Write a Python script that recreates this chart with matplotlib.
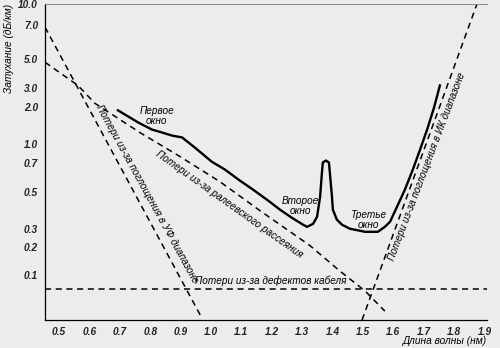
import numpy as np
import matplotlib.pyplot as plt

# суммарное затухание волокна
wl_total = [0.694, 0.727, 0.760, 0.806, 0.839, 0.872, 0.905, 0.947, 1.003, 1.046,
            1.095, 1.138, 1.188, 1.227, 1.266, 1.303, 1.316, 1.336, 1.349, 1.359,
            1.365, 1.368, 1.378, 1.388, 1.391, 1.398, 1.401, 1.414, 1.431, 1.457,
            1.507, 1.549, 1.572, 1.589, 1.612, 1.638, 1.664, 1.688, 1.711, 1.734,
            1.753]
att_total = [1.89, 1.69, 1.51, 1.32, 1.25, 1.18, 1.14, 0.94, 0.71, 0.645,
             0.568, 0.512, 0.442, 0.39, 0.349, 0.317, 0.308, 0.321, 0.354, 0.467,
             0.623, 0.70, 0.728, 0.70, 0.623, 0.467, 0.39, 0.34, 0.317, 0.30,
             0.28, 0.28, 0.308, 0.33, 0.406, 0.512, 0.645, 0.906, 1.32, 2.0,
             3.15]

# рэлеевское рассеяние
wl_rayleigh = [0.454, 0.5625, 0.618, 0.766, 0.898, 1.030, 1.161, 1.326, 1.424, 1.507, 1.572]
att_rayleigh = [4.74, 3.15, 2.18, 1.25, 0.788, 0.56, 0.385, 0.205, 0.11, 0.0735, 0.050]

# поглощение в УФ и ИК диапазонах
wl_uv = [0.454, 0.970]
att_uv = [6.86, 0.0438]
wl_ir = [1.497, 1.875]
att_ir = [0.0422, 10.0]

# дефекты кабеля
att_cable = 0.0764

x_ticks = [0.5, 0.6, 0.7, 0.8, 0.9, 1.0, 1.1, 1.2, 1.3, 1.4, 1.5, 1.6, 1.7, 1.8, 1.9]
y_ticks = [0.1, 0.2, 0.3, 0.5, 0.7, 1.0, 2.0, 3.0, 5.0, 7.0, 10.0]
y_labels = ['0.1', '0.2', '0.3', '0.5', '0.7', '1.0', '2.0', '3.0', '5.0', '7.0', '10.0']

# шкала по оси Y в книге нарисована "на глаз" - повторяем положения делений
scale_logs = np.log10([1e-6, 0.01, 0.1, 0.2, 0.3, 0.5, 0.7, 1.0, 2.0, 3.0, 5.0, 7.0, 10.0, 1e6])
scale_pos = -np.array([1115, 395, 275, 247, 229, 192, 163, 145, 108, 89, 60, 26, 5, -715.0])


def fwd(v):
    v = np.maximum(np.asarray(v, dtype=float), 1e-6)
    return np.interp(np.log10(v), scale_logs, scale_pos)


def inv(y):
    return 10 ** np.interp(y, scale_pos, scale_logs)


bg = '#ececec'
fig = plt.figure(figsize=(5, 3.48), dpi=100, facecolor=bg)
ax = fig.add_axes([0.09, 0.0805, 0.884, 0.908])
ax.set_facecolor(bg)
ax.set_yscale('function', functions=(fwd, inv))

dash = dict(color='black', lw=1.1, linestyle=(0, (4, 3)))
ax.plot(wl_uv, att_uv, **dash)
ax.plot(wl_rayleigh, att_rayleigh, **dash)
ax.plot(wl_ir, att_ir, **dash)
ax.axhline(att_cable, **dash)
ax.plot(wl_total, att_total, color='black', lw=1.7, solid_joinstyle='round')

ax.set_xlim(0.454, 1.908)
ax.set_ylim(0.0422, 10.0)

ax.set_xticks(x_ticks)
ax.set_xticklabels([f'{t:.1f}' for t in x_ticks])
ax.set_yticks(y_ticks)
ax.set_yticklabels(y_labels)
ax.yaxis.set_minor_locator(plt.NullLocator())
ax.tick_params(length=0, labelsize=7.3, pad=5)
for lab in ax.get_xticklabels() + ax.get_yticklabels():
    lab.set_fontstyle('italic')
    lab.set_fontweight('bold')
    lab.set_fontfamily('Liberation Sans')
    lab.set_color('#222222')

for s in ['left', 'bottom']:
    ax.spines[s].set_linewidth(0.9)
ax.spines['right'].set_visible(False)
ax.spines['top'].set_color('#888888')
ax.spines['top'].set_linewidth(0.7)

txt = dict(fontsize=7.2, style='italic', family='Liberation Sans',
           ha='center', va='center', transform=ax.transAxes, rotation_mode='anchor')
ax.text(0.253, 0.646, 'Первое\nокно', linespacing=1.0, **txt)
ax.text(0.577, 0.361, 'Второе\nокно', linespacing=1.0, **txt)
ax.text(0.731, 0.316, 'Третье\nокно', linespacing=1.0, **txt)
ax.text(0.511, 0.125, 'Потери из-за дефектов кабеля', **txt)
ax.text(0.416, 0.367, 'Потери из-за ралеевского рассеяния', rotation=-35.4, **txt)
ax.text(0.231, 0.399, 'Потери из-за поглощения в УФ диапазоне', rotation=-61.2, **txt)
ax.text(0.864, 0.484, 'Потери из-за поглощения в ИК диапазоне', rotation=69.2, **txt)

fig.text(0.018, 0.86, 'Затухание (дБ/км)', rotation=90, ha='center', va='center',
         fontsize=7.3, style='italic', family='Liberation Sans')
fig.text(0.974, 0.02, 'Длина волны (нм)', ha='right', va='center',
         fontsize=7.3, style='italic', family='Liberation Sans')

fig.savefig('out.png', dpi=100, facecolor=bg)
